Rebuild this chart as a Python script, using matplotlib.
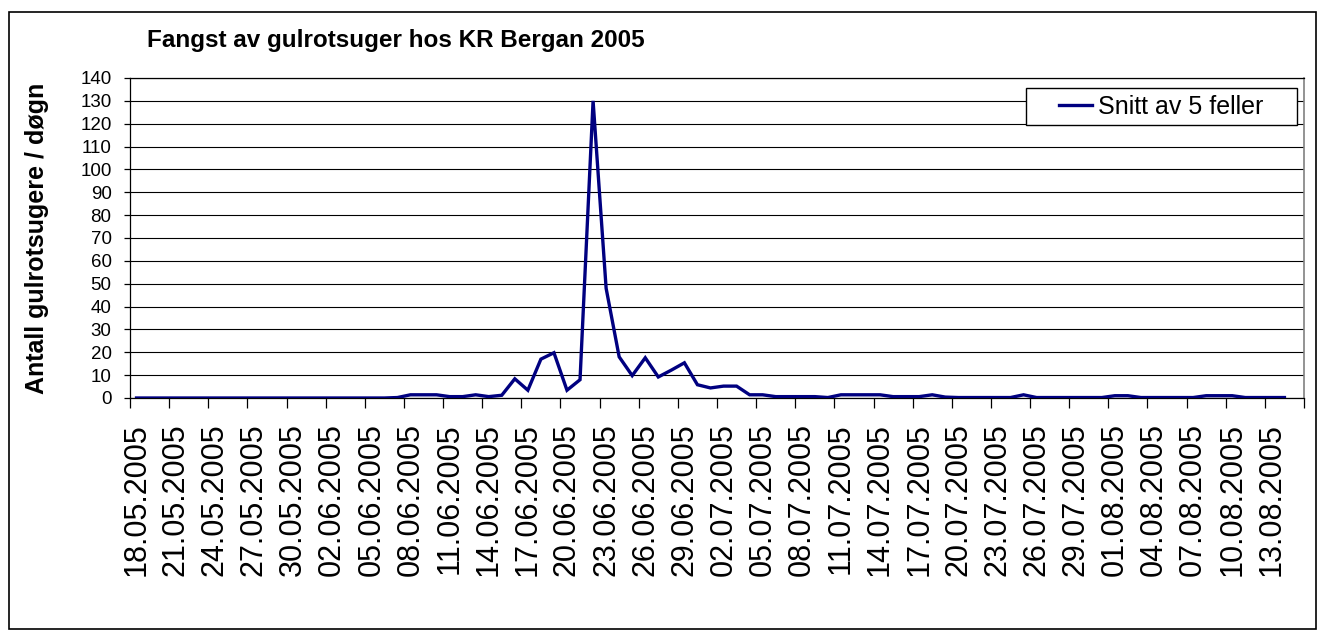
import matplotlib
matplotlib.use("Agg")
import matplotlib.pyplot as plt
import numpy as np
from matplotlib.patches import Rectangle

plt.rcParams['font.family'] = ['Liberation Sans', 'DejaVu Sans']

# one category per day, 18.05.2005 - 15.08.2005 (90 slots on the axis)
N_CATEGORIES = 90

# daily average of 5 traps, starting 18.05.2005
snitt = [0, 0, 0, 0, 0, 0, 0, 0, 0, 0,
         0, 0, 0, 0, 0, 0, 0, 0, 0, 0,
         0.2, 1.4, 1.4, 1.4, 0.6, 0.6, 1.4, 0.6, 1.2, 8.4,
         3.4, 17.0, 19.8, 3.4, 8.0, 130.0, 48.0, 18.0, 9.8, 17.6,
         9.2, 12.2, 15.4, 5.8, 4.4, 5.2, 5.2, 1.4, 1.4, 0.6,
         0.6, 0.6, 0.6, 0.2, 1.4, 1.4, 1.4, 1.4, 0.6, 0.6,
         0.6, 1.4, 0.4, 0.2, 0.2, 0.2, 0.2, 0.2, 1.4, 0.2,
         0.2, 0.2, 0.2, 0.2, 0.2, 1.0, 1.0, 0.2, 0.2, 0.2,
         0.2, 0.2, 1.0, 1.0, 1.0, 0.2, 0.2, 0.2, 0.2]

date_labels = ["18.05.2005", "21.05.2005", "24.05.2005", "27.05.2005", "30.05.2005",
               "02.06.2005", "05.06.2005", "08.06.2005", "11.06.2005", "14.06.2005",
               "17.06.2005", "20.06.2005", "23.06.2005", "26.06.2005", "29.06.2005",
               "02.07.2005", "05.07.2005", "08.07.2005", "11.07.2005", "14.07.2005",
               "17.07.2005", "20.07.2005", "23.07.2005", "26.07.2005", "29.07.2005",
               "01.08.2005", "04.08.2005", "07.08.2005", "10.08.2005", "13.08.2005"]
label_step = 3

yticks = list(range(0, 141, 10))

W, H = 1322, 635
fig = plt.figure(figsize=(W / 100, H / 100), dpi=100)

# plot area in pixels: x 130..1304, y 78..398
ax = fig.add_axes([130 / W, 1 - 398 / H, 1174 / W, 320 / H])

x = np.arange(len(snitt)) + 0.5
ax.plot(x, snitt, color='#000080', lw=2.4, solid_joinstyle='miter', zorder=3,
        label='Snitt av 5 feller')

ax.set_xlim(0, N_CATEGORIES)
ax.set_ylim(0, 140)
ax.set_yticks(yticks)
ax.yaxis.grid(True, color='black', lw=0.8)
ax.set_axisbelow(True)

# tick marks between categories, labels centred on the category
ax.set_xticks(np.arange(0, N_CATEGORIES + 1, label_step))
ax.set_xticklabels([])
ax.set_xticks(np.arange(len(date_labels)) * label_step + 0.5, minor=True)
ax.set_xticklabels(date_labels, minor=True, rotation=90, fontsize=22)
ax.tick_params(axis='x', which='major', length=7, width=0.9, color='black')
ax.tick_params(axis='x', which='minor', length=0, pad=18)
ax.tick_params(axis='y', length=4.3, width=0.9, labelsize=13.5, pad=9)

for s in ['left', 'bottom', 'top']:
    ax.spines[s].set_color('black')
    ax.spines[s].set_linewidth(0.9)
ax.spines['right'].set_color('#808080')
ax.spines['right'].set_linewidth(1.2)

# legend box
ax.add_patch(Rectangle((0.7632, 0.8531), 0.2308, 0.1156, transform=ax.transAxes,
                       facecolor='white', edgecolor='black', lw=1, zorder=4,
                       clip_on=False))
ax.legend(loc='center left', bbox_to_anchor=(0.7913, 0.9109), frameon=False,
          fontsize=18, borderpad=0, borderaxespad=0, handlelength=1.32,
          handletextpad=0.24)

fig.text(147 / W, 1 - 47 / H, 'Fangst av gulrotsuger hos KR Bergan 2005',
         fontsize=17.5, fontweight='bold', ha='left', va='baseline')
fig.text(37 / W, 1 - 238 / H, 'Antall gulrotsugere / døgn', fontsize=18,
         fontweight='bold', rotation=90, ha='center', va='center')

# outer chart frame
fig.patches.append(Rectangle((9 / W, 1 - 629 / H), 1307 / W, 617 / H,
                             transform=fig.transFigure, fill=False,
                             edgecolor='black', lw=1.2))

plt.savefig('out.png', dpi=100)
